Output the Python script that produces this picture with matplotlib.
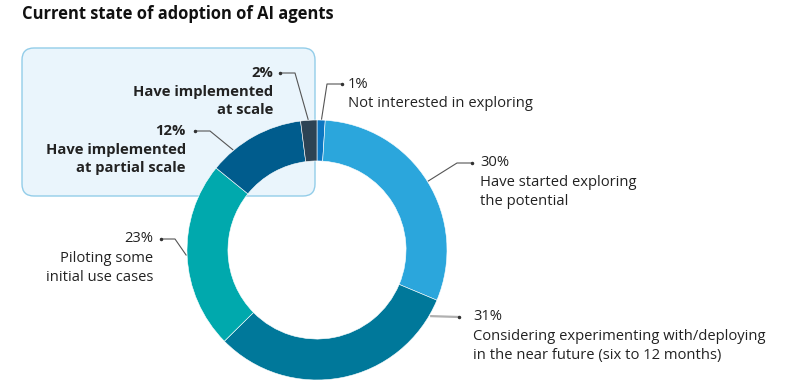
import numpy as np
import matplotlib
matplotlib.use("Agg")
import matplotlib.pyplot as plt
from matplotlib.patches import FancyBboxPatch

# ---------------- data ----------------
categories = [
    "Not interested in exploring",
    "Have started exploring\nthe potential",
    "Considering experimenting with/deploying\nin the near future (six to 12 months)",
    "Piloting some\ninitial use cases",
    "Have implemented\nat partial scale",
    "Have implemented\nat scale",
]
values = [1, 30, 31, 23, 12, 2]
pct_labels = ["1%", "30%", "31%", "23%", "12%", "2%"]
colors = ["#0b76c1", "#2ba6dc", "#00789a", "#00a9ad", "#005c8d", "#2d4354"]
title = "Current state of adoption of AI agents"

FONT = "Open Sans"
W, H = 802, 385
fig = plt.figure(figsize=(W / 100, H / 100), dpi=100)
ax = fig.add_axes([0, 0, 1, 1])

def Y(py):
    return H - py

# highlight box
box = FancyBboxPatch((22, Y(196)), 293, 148,
                     boxstyle="round,pad=0,rounding_size=12",
                     facecolor="#eaf5fc", edgecolor="#93cde9", lw=1.0, zorder=1)
ax.add_patch(box)

cx, cy, R = 317, Y(250), 130
wedges, _ = ax.pie(values, colors=colors, startangle=90, counterclock=False,
                   radius=R, center=(cx, cy),
                   wedgeprops=dict(width=R * 0.315, edgecolor="white", linewidth=0.4),
                   frame=True)
for w in wedges:
    w.set_zorder(3)
ax.set_xlim(0, W)
ax.set_ylim(0, H)
ax.set_aspect("auto")
ax.axis("off")

# label layout: (touch angle, dot x, dot y, elbow x, text x, align, bold)
layout = [
    (88.0, 342, 84, 327, 348, "left", False),
    (31.8, 472, 163, 457, 480, "left", False),
    (-30.3, 459, 317, None, 473, "left", False),
    (-177.8, 161, 239, 175, 153, "right", False),
    (130.0, 195, 131, 210, 186, "right", True),
    (93.9, 280, 73, 295, 273, "right", True),
]

FS = 10.6
txt_color = "#222222"
for (ang, dx, dy, ex, tx, ha, bold), pl, cat in zip(layout, pct_labels, categories):
    a = np.deg2rad(ang)
    px, py = cx + (R + 1) * np.cos(a), cy + (R + 1) * np.sin(a)
    if ex is None:
        ax.plot([px, dx], [py, Y(dy)], color="#b0b0b0", lw=1.6, zorder=4,
                solid_capstyle="butt")
    else:
        ax.plot([px, ex, dx], [py, Y(dy), Y(dy)], color="#555555", lw=0.8, zorder=4)
    ax.plot([dx], [Y(dy)], marker="o", ms=1.5, color="#333333", zorder=5)
    weight = "bold" if bold else "normal"
    ax.text(tx, Y(dy), pl, ha=ha, va="center", fontsize=FS, family=FONT,
            color=txt_color, weight=weight, zorder=6)
    ax.text(tx, Y(dy + 12), cat, ha=ha, va="top", fontsize=FS, family=FONT,
            color=txt_color, weight=weight, zorder=6, linespacing=1.33)

ax.text(22, Y(14), title, ha="left", va="center", fontsize=11.9, family=FONT,
        weight="bold", color="#111111")

fig.savefig("out.png", dpi=100)
